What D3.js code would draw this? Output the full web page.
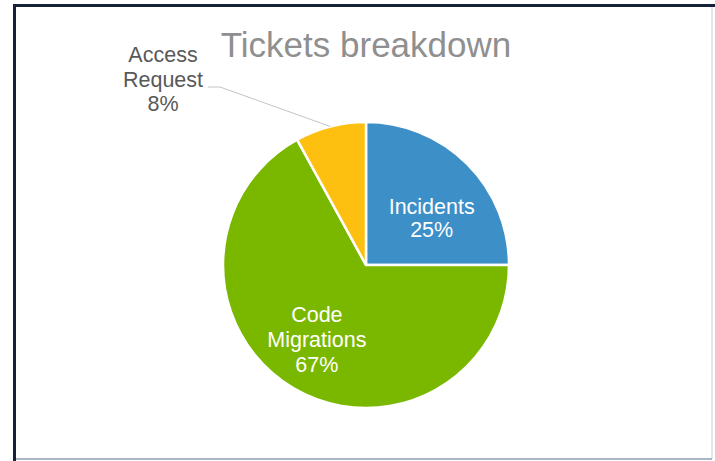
<!DOCTYPE html>
<html>
<head>
<meta charset="utf-8">
<script src="https://cdn.jsdelivr.net/npm/d3@7"></script>
<style>
  body { margin: 0; background: #fff; }
  svg { display: block; font-family: "Liberation Sans", Arial, sans-serif; }
</style>
</head>
<body>
<div id="chart"></div>
<script>
// chart data
const categories = ["Incidents", "Code Migrations", "Access Request"];
const values = [25, 67, 8];
const colors = ["#3d8fc8", "#7ab800", "#fdc010"];
const title = "Tickets breakdown";

const width = 715, height = 461;
const cx = 366, cy = 265, radius = 143;

const svg = d3.select("#chart")
    .append("svg")
    .attr("width", width)
    .attr("height", height);

// frame
svg.append("rect")
    .attr("x", 13).attr("y", 4)
    .attr("width", 700).attr("height", 455)
    .attr("fill", "#fff");
svg.append("line").attr("x1", 712).attr("y1", 6).attr("x2", 712).attr("y2", 459)
    .attr("stroke", "#dcdfe6").attr("stroke-width", 1.5);
svg.append("line").attr("x1", 14).attr("y1", 459).attr("x2", 712).attr("y2", 459)
    .attr("stroke", "#a9b6c8").attr("stroke-width", 2);
svg.append("line").attr("x1", 14.5).attr("y1", 4).attr("x2", 14.5).attr("y2", 461)
    .attr("stroke", "#17213a").attr("stroke-width", 3);
svg.append("line").attr("x1", 13).attr("y1", 5.5).attr("x2", 715).attr("y2", 5.5)
    .attr("stroke", "#17213a").attr("stroke-width", 3);

// title
svg.append("text")
    .attr("x", 366)
    .attr("y", 57)
    .attr("text-anchor", "middle")
    .attr("font-size", 35)
    .attr("fill", "#8f8f8f")
    .text(title);

const pie = d3.pie().sort(null).value(d => d);
const arcs = pie(values);

const arc = d3.arc().innerRadius(0).outerRadius(radius);
const labelArc = d3.arc().innerRadius(radius * 0.62).outerRadius(radius * 0.62);

const g = svg.append("g").attr("transform", `translate(${cx},${cy})`);

g.selectAll("path")
    .data(arcs)
    .enter()
    .append("path")
    .attr("d", arc)
    .attr("fill", (d, i) => colors[i])
    .attr("stroke", "#fff")
    .attr("stroke-width", 2.5)
    .attr("stroke-linejoin", "round");

// labels inside the big slices (Excel best-fit nudges them a bit)
const nudge = [[3, 16], [-4, -1]];
const inside = arcs.filter(d => d.data >= 20);
inside.forEach(d => {
    const i = d.index;
    const [lx, ly] = labelArc.centroid(d);
    const words = categories[i].split(" ");
    const lines = words.concat([d.data + "%"]);
    const lh = i === 0 ? 23 : 25;
    const t = g.append("text")
        .attr("text-anchor", "middle")
        .attr("font-size", 21.5)
        .attr("fill", "#fff");
    lines.forEach((s, k) => {
        t.append("tspan")
            .attr("x", lx + nudge[i][0])
            .attr("y", ly + nudge[i][1] + (k - (lines.length - 1) / 2) * lh + 7)
            .text(s);
    });
});

// outside label with leader line for the small slice
const small = arcs[2];
const mid = (small.startAngle + small.endAngle) / 2;
const px = Math.sin(mid) * radius, py = -Math.cos(mid) * radius;
const elbow = [208 - cx, 87 - cy];
g.append("polyline")
    .attr("points", [[px, py], [elbow[0] + 12, elbow[1]], elbow].map(p => p.join(",")).join(" "))
    .attr("fill", "none")
    .attr("stroke", "#c4c4c4")
    .attr("stroke-width", 1);

const outLines = categories[2].split(" ").concat([small.data + "%"]);
const ot = g.append("text")
    .attr("text-anchor", "middle")
    .attr("font-size", 21.5)
    .attr("fill", "#595959");
outLines.forEach((s, k) => {
    ot.append("tspan")
        .attr("x", 163 - cx)
        .attr("y", 62 - cy + k * 24.5)
        .text(s);
});
</script>
</body>
</html>
